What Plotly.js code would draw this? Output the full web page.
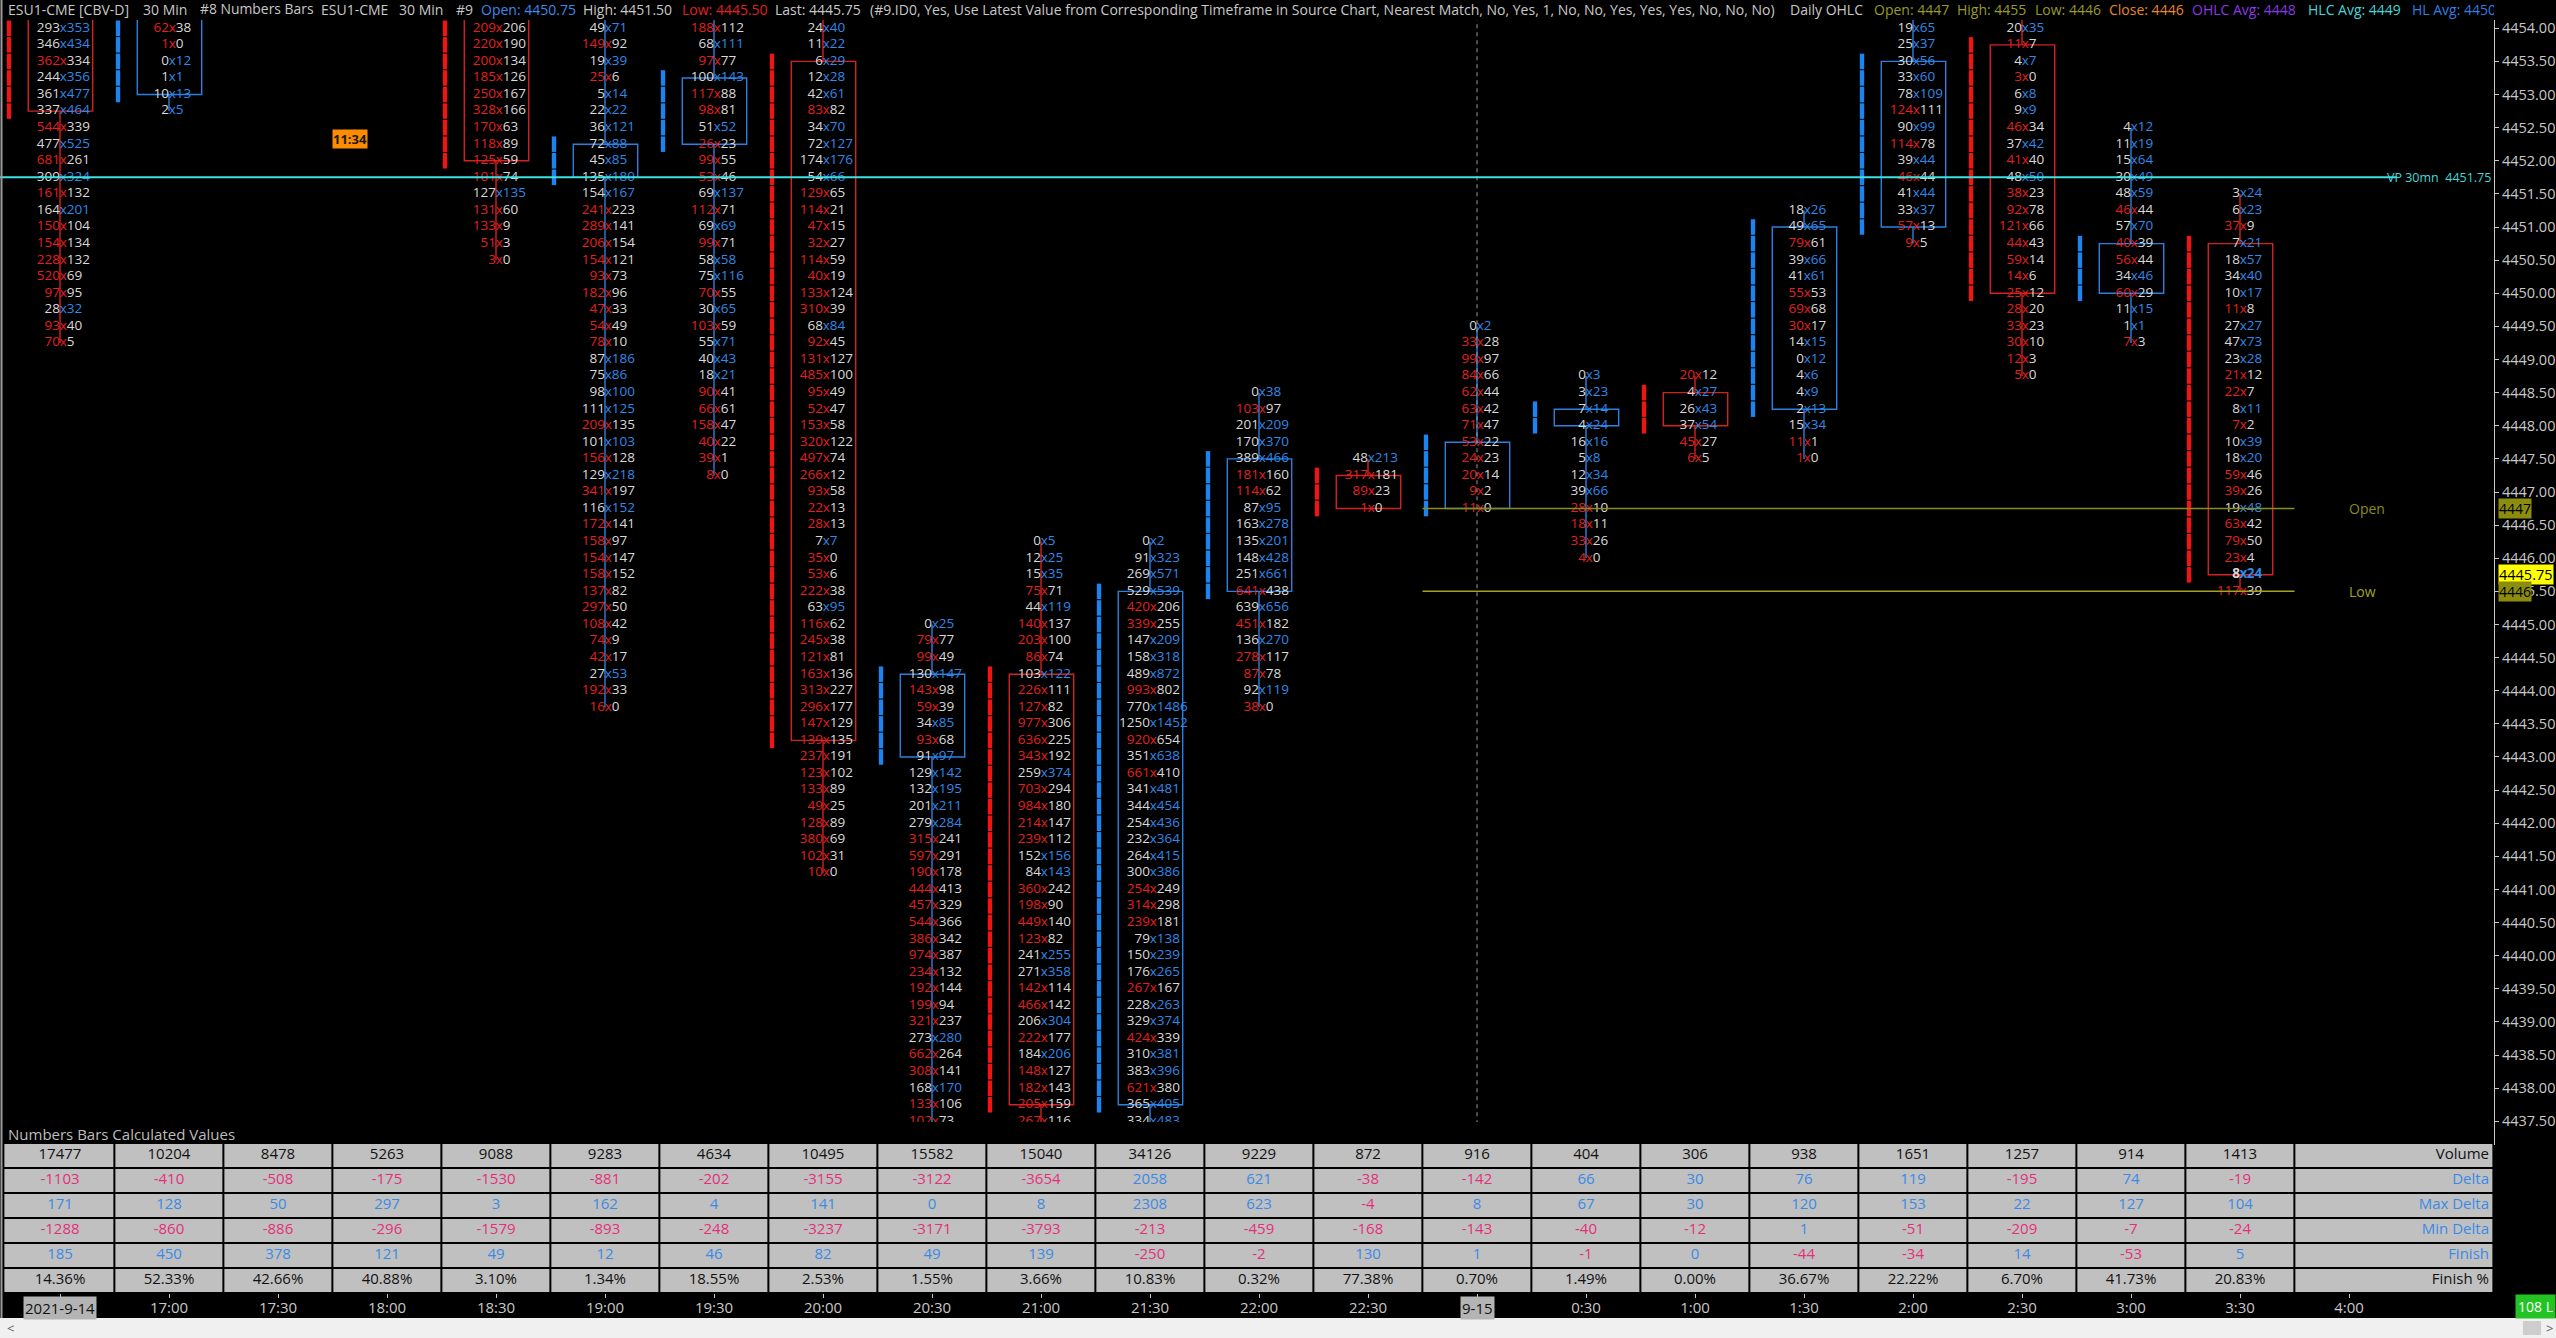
<!DOCTYPE html>
<html>
<head>
<meta charset="utf-8">
<script src="https://cdn.plot.ly/plotly-3.0.1.min.js"></script>
<style>html,body{margin:0;padding:0;background:#000;overflow:hidden}#chart{width:2556px;height:1338px}</style>
</head>
<body>
<div id="chart"></div>
<script>
// ---------------- DATA ----------------
const timeLabels = ['2021-9-14','17:00','17:30','18:00','18:30','19:00','19:30','20:00','20:30','21:00','21:30','22:00','22:30','9-15','0:30','1:00','1:30','2:00','2:30','3:00','3:30','4:00'];

// OHLC of each 30 min bar (values beyond the visible price range are estimates)
const barOpen  = [4455.25,4453.00,null,null,4455.00,4451.75,4452.25,4453.50,4443.00,4444.25,4437.75,4445.50,4447.25,4446.75,4448.00,4448.50,4448.25,4451.00,4453.75,4450.00,4450.75];
const barClose = [4452.75,4455.50,null,null,4452.00,4452.25,4453.25,4443.25,4444.25,4437.75,4445.50,4447.50,4446.75,4447.75,4448.25,4448.00,4451.00,4453.50,4450.00,4450.75,4445.75];
const barHigh  = [4456.25,4456.50,null,null,4455.25,4454.50,4454.50,4454.50,4445.00,4446.25,4446.25,4448.50,4447.50,4449.50,4448.75,4448.75,4451.25,4454.50,4455.00,4452.50,4451.50];
const barLow   = [4449.25,4452.75,null,null,4450.50,4443.75,4447.25,4441.25,4437.00,4437.00,4437.00,4443.75,4446.75,4446.75,4446.00,4447.50,4447.50,4450.75,4448.75,4449.25,4445.50];
// price of the first (highest) visible cell of each bar
const topCellPrice = [4454.00,4454.00,null,null,4454.00,4454.00,4454.00,4454.00,4445.00,4446.25,4446.25,4448.50,4447.50,4449.50,4448.75,4448.75,4451.25,4454.00,4454.00,4452.50,4451.50];
const lastPrice = 4445.75;
const vpPrice = 4451.75;
const dailyOpen = 4446.75;
const dailyLow = 4445.50;

// bid x ask volume per price level, from the top cell downward
const cells1630 = ['293x353','346x434','362x334','244x356','361x477','337x464','544x339','477x525','681x261','309x324','161x132','164x201','150x104','154x134','228x132','520x69','97x95','28x32','93x40','70x5'];
const cells1700 = ['62x38','1x0','0x12','1x1','10x13','2x5'];
const cells1730 = [];
const cells1800 = [];
const cells1830 = ['209x206','220x190','200x134','185x126','250x167','328x166','170x63','118x89','125x59','101x74','127x135','131x60','133x9','51x3','3x0'];
const cells1900 = ['49x71','149x92','19x39','25x6','5x14','22x22','36x121','72x88','45x85','135x180','154x167','241x223','289x141','206x154','154x121','93x73','182x96','47x33','54x49','78x10','87x186','75x86','98x100','111x125','209x135','101x103','156x128','129x218','341x197','116x152','172x141','158x97','154x147','158x152','137x82','297x50','108x42','74x9','42x17','27x53','192x33','16x0'];
const cells1930 = ['188x112','68x111','97x77','100x143','117x88','98x81','51x52','26x23','99x55','53x46','69x137','112x71','69x69','99x71','58x58','75x116','70x55','30x65','103x59','55x71','40x43','18x21','90x41','66x61','158x47','40x22','39x1','8x0'];
const cells2000 = ['24x40','11x22','6x29','12x28','42x61','83x82','34x70','72x127','174x176','54x66','129x65','114x21','47x15','32x27','114x59','40x19','133x124','310x39','68x84','92x45','131x127','485x100','95x49','52x47','153x58','320x122','497x74','266x12','93x58','22x13','28x13','7x7','35x0','53x6','222x38','63x95','116x62','245x38','121x81','163x136','313x227','296x177','147x129','139x135','237x191','123x102','133x89','49x25','128x89','380x69','102x31','10x0'];
const cells2030 = ['0x25','79x77','99x49','130x147','143x98','59x39','34x85','93x68','91x97','129x142','132x195','201x211','279x284','315x241','597x291','190x178','444x413','457x329','544x366','386x342','974x387','234x132','192x144','199x94','321x237','273x280','662x264','308x141','168x170','133x106','102x73'];
const cells2100 = ['0x5','12x25','15x35','75x71','44x119','140x137','203x100','86x74','103x122','226x111','127x82','977x306','636x225','343x192','259x374','703x294','984x180','214x147','239x112','152x156','84x143','360x242','198x90','449x140','123x82','241x255','271x358','142x114','466x142','206x304','222x177','184x206','148x127','182x143','205x159','267x116'];
const cells2130 = ['0x2','91x323','269x571','529x539','420x206','339x255','147x209','158x318','489x872','993x802','770x1486','1250x1452','920x654','351x638','661x410','341x481','344x454','254x436','232x364','264x415','300x386','254x249','314x298','239x181','79x138','150x239','176x265','267x167','228x263','329x374','424x339','310x381','383x396','621x380','365x405','334x483'];
const cells2200 = ['0x38','103x97','201x209','170x370','389x466','181x160','114x62','87x95','163x278','135x201','148x428','251x661','641x438','639x656','451x182','136x270','278x117','87x78','92x119','38x0'];
const cells2230 = ['48x213','317x181','89x23','1x0'];
const cells0000 = ['0x2','33x28','99x97','84x66','62x44','63x42','71x47','53x22','24x23','20x14','9x2','11x0'];
const cells0030 = ['0x3','3x23','7x14','4x24','16x16','5x8','12x34','39x66','28x10','18x11','33x26','4x0'];
const cells0100 = ['20x12','4x27','26x43','37x54','45x27','6x5'];
const cells0130 = ['18x26','49x65','79x61','39x66','41x61','55x53','69x68','30x17','14x15','0x12','4x6','4x9','2x13','15x34','11x1','1x0'];
const cells0200 = ['19x65','25x37','30x56','33x60','78x109','124x111','90x99','114x78','39x44','46x44','41x44','33x37','57x13','9x5'];
const cells0230 = ['20x35','11x7','4x7','3x0','6x8','9x9','46x34','37x42','41x40','48x50','38x23','92x78','121x66','44x43','59x14','14x6','25x12','28x20','33x23','30x10','12x3','5x0'];
const cells0300 = ['4x12','11x19','15x64','30x49','48x59','46x44','57x70','40x39','56x44','34x46','60x29','11x15','1x1','7x3'];
const cells0330 = ['3x24','6x23','37x9','7x21','18x57','34x40','10x17','11x8','27x27','47x73','23x28','21x12','22x7','8x11','7x2','10x39','18x20','59x46','39x26','19x48','63x42','79x50','23x4','8x24','117x39'];

// Numbers Bars Calculated Values
const rowLabels = ['Volume','Delta','Max Delta','Min Delta','Finish','Finish %'];
const volume    = [17477,10204,8478,5263,9088,9283,4634,10495,15582,15040,34126,9229,872,916,404,306,938,1651,1257,914,1413];
const delta     = [-1103,-410,-508,-175,-1530,-881,-202,-3155,-3122,-3654,2058,621,-38,-142,66,30,76,119,-195,74,-19];
const maxDelta  = [171,128,50,297,3,162,4,141,0,8,2308,623,-4,8,67,30,120,153,22,127,104];
const minDelta  = [-1288,-860,-886,-296,-1579,-893,-248,-3237,-3171,-3793,-213,-459,-168,-143,-40,-12,1,-51,-209,-7,-24];
const finish    = [185,450,378,121,49,12,46,82,49,139,-250,-2,130,1,-1,0,-44,-34,14,-53,5];
const finishPct = [14.36,52.33,42.66,40.88,3.10,1.34,18.55,2.53,1.55,3.66,10.83,0.32,77.38,0.70,1.49,0.00,36.67,22.22,6.70,41.73,20.83];

// ---------------- STYLE / LAYOUT ----------------
const W = 2556, H = 1338;
const FONT = 'Open Sans';
const ix = px => (px - 60) / 109;        // pixel x -> bar index
const py = y => 1 - y / H;               // pixel y -> paper
const RED = '#e3201f', BLUE = '#2f8ae8', WHITE = '#d9d9d9';
const BAR_RED = '#f01414', BAR_BLUE = '#1a84f0';
const LINE_RED = '#d42222', LINE_BLUE = '#2a80e2';
const PINK = '#e3307a', TBLUE = '#3a8ae6', TBLACK = '#111';
const OLIVE = '#8c8c1a';
const YMIN = 4437.49, YMAX = 4454.125;
const XR = [ix(0), ix(2494)];

const columns = [cells1630,cells1700,cells1730,cells1800,cells1830,cells1900,cells1930,cells2000,cells2030,cells2100,cells2130,cells2200,cells2230,cells0000,cells0030,cells0100,cells0130,cells0200,cells0230,cells0300,cells0330];

// footprint cell text
const bx=[],by=[],bt=[],bc=[],xx=[],xy=[],xt=[],xc=[],ax=[],ay=[],at=[],ac=[];
columns.forEach((cells,i)=>{
  cells.forEach((s,k)=>{
    const parts = s.split('x');
    const b = +parts[0], a = +parts[1];
    const p = topCellPrice[i] - 0.25*k;
    const sell = b > a;
    const bold = (i === columns.length-1 && Math.abs(p-lastPrice) < 1e-6);
    const w = t => bold ? '<b>'+t+'</b>' : t;
    bx.push(i); by.push(p); bt.push(w(parts[0])); bc.push(sell ? RED : WHITE);
    xx.push(i+0.031); xy.push(p); xt.push(w('x')); xc.push(sell ? RED : BLUE);
    ax.push(i+0.063); ay.push(p); at.push(w(parts[1])); ac.push(sell ? WHITE : BLUE);
  });
});

// candle segments (thin bar left of each column)
const segX=[],segBase=[],segH=[],segC=[];
const shapes = [];
barOpen.forEach((o,i)=>{
  const c = barClose[i];
  if (o === null || c === null) return;
  const lo = Math.min(o,c), hi = Math.max(o,c), up = c > o;
  for (let p = lo; p <= hi + 1e-9; p += 0.25) {
    segX.push(i-0.468); segBase.push(p-0.125+0.008); segH.push(0.25-0.016); segC.push(up ? BAR_BLUE : BAR_RED);
  }
  const lc = up ? LINE_BLUE : LINE_RED;
  shapes.push({type:'rect', xref:'x', yref:'y', x0:i-0.291, x1:i+0.300, y0:lo, y1:hi, line:{color:lc,width:1.4}, fillcolor:'rgba(0,0,0,0)', layer:'below'});
  if (barHigh[i] > hi) shapes.push({type:'line', xref:'x', yref:'y', x0:i, x1:i, y0:hi, y1:barHigh[i], line:{color:lc,width:1.4}, layer:'below'});
  if (barLow[i] < lo) shapes.push({type:'line', xref:'x', yref:'y', x0:i, x1:i, y0:barLow[i], y1:lo, line:{color:lc,width:1.4}, layer:'below'});
});

// day separator, VP line, daily open/low lines
shapes.push({type:'line', xref:'x', yref:'y', x0:13, x1:13, y0:YMIN-1, y1:YMAX+1, line:{color:'#9a9a9a',width:1,dash:'4px,4px'}, layer:'below'});
shapes.push({type:'line', xref:'x', yref:'y', x0:XR[0], x1:ix(2397), y0:vpPrice, y1:vpPrice, line:{color:'#3fe0e0',width:2}, layer:'above'});
shapes.push({type:'line', xref:'x', yref:'y', x0:12.5, x1:20.5, y0:dailyOpen, y1:dailyOpen, line:{color:OLIVE,width:1.5}, layer:'above'});
shapes.push({type:'line', xref:'x', yref:'y', x0:12.5, x1:20.5, y0:dailyLow, y1:dailyLow, line:{color:'#a4a41c',width:1.5}, layer:'above'});
// borders
shapes.push({type:'line', xref:'paper', yref:'paper', x0:1.5/W, x1:1.5/W, y0:py(1318), y1:1, line:{color:'#9a9a9a',width:2}});
shapes.push({type:'line', xref:'paper', yref:'paper', x0:2494.5/W, x1:2494.5/W, y0:py(1145), y1:py(1118), line:{color:'#c8c8c8',width:1}});
// scrollbar
shapes.push({type:'rect', xref:'paper', yref:'paper', x0:0, x1:1, y0:0, y1:py(1318), fillcolor:'#f0f0f0', line:{width:0}});
shapes.push({type:'rect', xref:'paper', yref:'paper', x0:2523/W, x1:2541/W, y0:py(1335), y1:py(1321), fillcolor:'#cdcdcd', line:{width:0}});

// table
const tableRows = [volume, delta, maxDelta, minDelta, finish, finishPct];
const xEdges = [-0.52]; for (let i=0;i<21;i++) xEdges.push(i+0.5); xEdges.push(ix(2493));
const zTable = rowLabels.map(()=>xEdges.slice(1).map(()=>0));
const tx=[],ty=[],tt=[],tc=[];
tableRows.forEach((row,r)=>{
  row.forEach((v,i)=>{
    tx.push(i); ty.push(r+0.5);
    tt.push(r===5 ? v.toFixed(2)+'%' : String(v));
    tc.push((r===0||r===5) ? TBLACK : (v<0 ? PINK : TBLUE));
  });
});
const lx = rowLabels.map(()=>ix(2489)), ly = rowLabels.map((_,r)=>r+0.5);
const lc = rowLabels.map((_,r)=>(r===0||r===5) ? TBLACK : TBLUE);

// time axis labels
const highlighted = ['2021-9-14','9-15'];
const tlx=[],tlt=[];
timeLabels.forEach((t,i)=>{ if (highlighted.indexOf(t)<0){ tlx.push(i); tlt.push(t);} });

// header line
const headerSegs = [
  ['ESU1-CME [CBV-D]', 8, '#c8c8c8'],
  ['30 Min', 143, '#c8c8c8'],
  ['#8 Numbers Bars', 200, '#c8c8c8'],
  ['ESU1-CME', 321, '#c8c8c8'],
  ['30 Min', 399, '#c8c8c8'],
  ['#9', 456, '#c8c8c8'],
  ['Open: 4450.75', 481, '#3b8beb'],
  ['High: 4451.50', 583, '#c8c8c8'],
  ['Low: 4445.50', 682, '#e02020'],
  ['Last: 4445.75', 775, '#c8c8c8'],
  ['(#9.ID0, Yes, Use Latest Value from Corresponding Timeframe in Source Chart, Nearest Match, No, Yes, 1, No, No, Yes, Yes, Yes, No, No, No)', 870, '#c8c8c8'],
  ['Daily OHLC', 1790, '#c8c8c8'],
  ['Open: 4447', 1874, '#9a9a2a'],
  ['High: 4455', 1957, '#9a9a2a'],
  ['Low: 4446', 2035, '#9a9a2a'],
  ['Close: 4446', 2109, '#e8862a'],
  ['OHLC Avg: 4448', 2192, '#8a3ae0'],
  ['HLC Avg: 4449', 2308, '#40d8d8'],
  ['HL Avg: 4450', 2412, '#2f7fe0']
];
const mctx = document.createElement('canvas').getContext('2d');
function fitSize(text, maxW, base){
  mctx.font = base + 'px "' + FONT + '"';
  const w = mctx.measureText(text).width;
  return w > maxW ? Math.floor(base*maxW/w*10)/10 : base;
}
const hSizes = headerSegs.map((s,k)=> k < headerSegs.length-1 ? fitSize(s[0], headerSegs[k+1][1]-s[1]-7, 14) : 14);

// price axis ticks
const tickVals = []; for (let p=4437.5; p<=4454.0001; p+=0.5) tickVals.push(p);
const tickText = tickVals.map(v=>v.toFixed(2));

const NOHOVER = {hoverinfo:'skip'};
const traces = [
  Object.assign({type:'heatmap', xaxis:'x2', yaxis:'y2', x:xEdges, y:[0,1,2,3,4,5,6], z:zTable, zmin:0, zmax:1,
    colorscale:[[0,'#c0c0c0'],[1,'#c0c0c0']], showscale:false, xgap:2, ygap:2}, NOHOVER),
  Object.assign({type:'bar', xaxis:'x', yaxis:'y', x:segX, base:segBase, y:segH, width:0.04,
    marker:{color:segC, line:{width:0}}}, NOHOVER),
  Object.assign({type:'scatter', mode:'text', x:bx, y:by, text:bt, textposition:'middle left',
    textfont:{family:FONT, size:13.5, color:bc}}, NOHOVER),
  Object.assign({type:'scatter', mode:'text', x:xx, y:xy, text:xt, textposition:'middle center',
    textfont:{family:FONT, size:13.5, color:xc}}, NOHOVER),
  Object.assign({type:'scatter', mode:'text', x:ax, y:ay, text:at, textposition:'middle right',
    textfont:{family:FONT, size:13.5, color:ac}}, NOHOVER),
  Object.assign({type:'scatter', mode:'text', xaxis:'x2', yaxis:'y2', x:tx, y:ty, text:tt, textposition:'middle center',
    textfont:{family:FONT, size:15, color:tc}}, NOHOVER),
  Object.assign({type:'scatter', mode:'text', xaxis:'x2', yaxis:'y2', x:lx, y:ly, text:rowLabels, textposition:'middle left',
    textfont:{family:FONT, size:15, color:lc}}, NOHOVER),
  Object.assign({type:'scatter', mode:'text', xaxis:'x2', yaxis:'y3', x:tlx, y:tlx.map(()=>0.36), text:tlt, textposition:'middle center',
    textfont:{family:FONT, size:15, color:'#c8c8c8'}}, NOHOVER),
  Object.assign({type:'scatter', mode:'text', xaxis:'x3', yaxis:'y4', x:headerSegs.map(s=>s[1]), y:headerSegs.map(()=>0.45),
    text:headerSegs.map(s=>s[0]), textposition:'middle right',
    textfont:{family:FONT, size:hSizes, color:headerSegs.map(s=>s[2])}}, NOHOVER)
];

const annotations = [
  {xref:'paper', yref:'y', x:2493/W, y:vpPrice, xanchor:'right', yanchor:'middle', text:'VP 30mn\u00a0\u00a04451.75', showarrow:false, font:{family:FONT,size:12.5,color:'#3fd9d9'}},
  {xref:'x', yref:'y', x:ix(2347), y:dailyOpen, xanchor:'left', yanchor:'middle', text:'Open', showarrow:false, font:{family:FONT,size:14,color:OLIVE}},
  {xref:'x', yref:'y', x:ix(2347), y:dailyLow, xanchor:'left', yanchor:'middle', text:'Low', showarrow:false, font:{family:FONT,size:14,color:'#a4a41c'}},
  {xref:'paper', yref:'y', x:2498/W, y:dailyOpen, xanchor:'left', yanchor:'middle', text:'4447', showarrow:false, bgcolor:'#8c8c0e', borderpad:0, font:{family:FONT,size:14,color:'#000'}},
  {xref:'paper', yref:'y', x:2498/W, y:lastPrice, xanchor:'left', yanchor:'middle', text:'4445.75', showarrow:false, bgcolor:'#ffff00', borderpad:0, font:{family:FONT,size:14.5,color:'#000'}},
  {xref:'paper', yref:'y', x:2498/W, y:dailyLow, xanchor:'left', yanchor:'middle', text:'4446', showarrow:false, bgcolor:'#8c8c0e', borderpad:0, font:{family:FONT,size:14,color:'#000'}},
  {xref:'paper', yref:'paper', x:350/W, y:py(139), xanchor:'center', yanchor:'middle', text:'<b>11:34</b>', showarrow:false, bgcolor:'#ff8c00', borderpad:0, font:{family:FONT,size:13,color:'#1a1a1a'}},
  {xref:'paper', yref:'paper', x:6/W, y:py(1134), xanchor:'left', yanchor:'middle', text:'Numbers Bars Calculated Values', showarrow:false, font:{family:FONT,size:15,color:'#bdbdbd'}},
  {xref:'paper', yref:'paper', x:1, y:py(1306), xanchor:'right', yanchor:'middle', text:'108 L', showarrow:false, bgcolor:'#22c322', borderpad:2, font:{family:FONT,size:14,color:'#fff'}},
  {xref:'paper', yref:'paper', x:10/W, y:py(1328), xanchor:'center', yanchor:'middle', text:'<', showarrow:false, font:{family:FONT,size:13,color:'#606060'}},
  {xref:'paper', yref:'paper', x:2549/W, y:py(1328), xanchor:'center', yanchor:'middle', text:'>', showarrow:false, font:{family:FONT,size:13,color:'#606060'}}
];
highlighted.forEach(t=>{
  annotations.push({xref:'x2', yref:'paper', x:timeLabels.indexOf(t), y:py(1307.5), xanchor:'center', yanchor:'middle', text:t, showarrow:false,
    bgcolor:'#b4b4b4', borderpad:1, font:{family:FONT,size:15,color:'#111'}});
});

const hiddenAxis = {showgrid:false, zeroline:false, showticklabels:false, ticks:'', showline:false, fixedrange:true};
const layout = {
  width:W, height:H, margin:{l:0,r:0,t:0,b:0}, paper_bgcolor:'#000', plot_bgcolor:'rgba(0,0,0,0)',
  showlegend:false, hovermode:false, barmode:'overlay',
  xaxis: Object.assign({}, hiddenAxis, {domain:[0,2494/W], range:XR, anchor:'y'}),
  yaxis: {domain:[py(1122), py(20)], range:[YMIN,YMAX], anchor:'x', side:'right', tickmode:'array', tickvals:tickVals, ticktext:tickText,
    tickfont:{family:FONT,size:14.5,color:'#c8c8c8'}, ticks:'outside', ticklen:4, tickcolor:'#c8c8c8',
    showline:true, linecolor:'#c8c8c8', linewidth:1, showgrid:false, zeroline:false, fixedrange:true},
  xaxis2: {domain:[0,2494/W], range:XR, anchor:'y2', showgrid:false, zeroline:false, showticklabels:false,
    tickmode:'array', tickvals:timeLabels.map((_,i)=>i), ticks:'outside', ticklen:4, tickcolor:'#c8c8c8', showline:false, fixedrange:true},
  yaxis2: Object.assign({}, hiddenAxis, {domain:[py(1293), py(1143)], range:[6,0], anchor:'x2'}),
  yaxis3: Object.assign({}, hiddenAxis, {domain:[py(1318), py(1293)], range:[0,1], anchor:'x2'}),
  xaxis3: Object.assign({}, hiddenAxis, {domain:[0,2494/W], range:[0,2494], anchor:'y4'}),
  yaxis4: Object.assign({}, hiddenAxis, {domain:[py(20), 1], range:[0,1], anchor:'x3'}),
  shapes: shapes,
  annotations: annotations
};

Plotly.newPlot('chart', traces, layout, {displayModeBar:false, staticPlot:true});
</script>
</body>
</html>
